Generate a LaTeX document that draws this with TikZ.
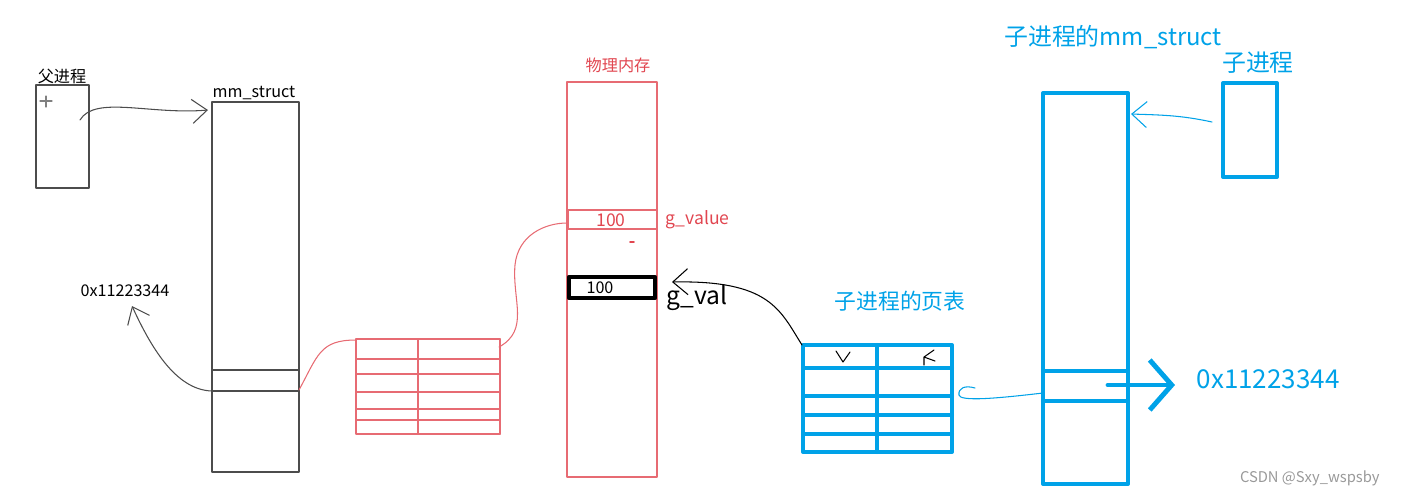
\documentclass[tikz,border=0pt]{standalone}
\usepackage{fontspec}
\setmainfont{Noto Sans CJK SC}
\usetikzlibrary{arrows.meta}
\definecolor{cblue}{RGB}{0,162,232}
\definecolor{cred}{RGB}{225,70,80}
\tikzset{
	gray box/.style={draw=black!70,line width=0.3pt},
	red box/.style={draw=cred!80,line width=0.3pt},
	blue box/.style={draw=cblue,line width=1.15pt},
	hand/.style={line width=0.3pt}
}
\begin{document}
\begin{tikzpicture}[line cap=round,line join=round,x=0.1mm,y=-0.1mm]
	\useasboundingbox (0,0) rectangle (1404,495);
	
	% parent process
	\draw[gray box] (36,85) rectangle (89,188);
	\coordinate (par) at (80,120);
	\draw[black!50,line width=0.3pt] (46,96)--(46,107) (40,101)--(52,101);
	\node (parlbl) at (62,76) {\fontsize{4.6}{5}\selectfont 父进程};
	
	\draw[gray box] (212,102) rectangle (299,472);
	\draw[gray box] (212,370)--(299,370) (212,391)--(299,391);
	\coordinate (mmin) at (208,110);
	\coordinate (mmrow) at (212,391);
	\coordinate (mmrowr) at (299,390);
	\node (mmlbl) at (254,93) {\fontsize{4.6}{5}\selectfont mm\_struct};
	\node (addrl) at (125,291) {\fontsize{4.6}{5}\selectfont 0x11223344};
	
	\draw[hand,black!70,-{Straight Barb[length=1.5mm,width=2.4mm]}] (par) .. controls (95,95) and (150,115) .. (mmin);
	\draw[hand,black!70,-{Straight Barb[length=1.5mm,width=2.4mm]}] (mmrow) .. controls (175,390) and (150,345) .. (132,306);
	
	% parent page table
	\draw[red box] (356,339) rectangle (500,434);
	\draw[red box,line width=0.5pt] (418,339) rectangle (500,434);
	\foreach \y in {359,374,392,409,420}
		\draw[red box] (356,\y)--(500,\y);
	\coordinate (ptl) at (356,340);
	\coordinate (ptr) at (499,347);
	\draw[hand,cred!80] (mmrowr) .. controls (318,355) and (320,340) .. (ptl);
	
	% physical memory
	\draw[red box] (567,82) rectangle (657,477);
	\node[cred] (memlbl) at (618,65) {\fontsize{4.6}{5}\selectfont 物理内存};
	\draw[red box] (568,210) rectangle (657,229);
	\coordinate (gvalue) at (567,223);
	\node[cred] (v1) at (611,220) {\fontsize{5}{6}\selectfont 100};
	\node[cred,anchor=west,inner sep=0pt] (gv1) at (665,220) {\fontsize{5}{6}\selectfont g\_value};
	\draw[cred,line width=0.5pt] (630,242)--(634,242);
	\draw[hand,cred!80] (ptr) .. controls (530,330) and (512,300) .. (515,265) .. controls (518,235) and (545,223) .. (gvalue);
	
	\draw[line width=1.2pt] (569,277) rectangle (655,298);
	\node (v2) at (600,288) {\fontsize{4.6}{5}\selectfont 100};
	\node[anchor=west,inner sep=0pt] (gv2) at (666,298) {\fontsize{7}{8}\selectfont g\_val};
	\coordinate (gvin) at (672,282);
	
	% child page table
	\draw[blue box] (803,345) rectangle (952,452);
	\draw[blue box] (877,345)--(877,452);
	\foreach \y in {368,396,415,434}
		\draw[blue box] (803,\y)--(952,\y);
	\node[cblue] (cptlbl) at (900,301) {\fontsize{6.2}{7}\selectfont 子进程的页表};
	\coordinate (cpt) at (802,345);
	\coordinate (cptr) at (957,393);
	\draw[hand,-{Straight Barb[length=1.5mm,width=2.6mm]}] (cpt) .. controls (780,310) and (770,280) .. (gvin);
	\draw[hand] (836,351)--(843,362)--(850,352) (934,350)--(924,357)--(935,361) (924,357)--(924,365);
	
	% child mm_struct
	\draw[blue box] (1043,93) rectangle (1128,484);
	\draw[blue box] (1043,371)--(1128,371) (1043,401)--(1128,401);
	\node[cblue] (cmmlbl) at (1113,37) {\fontsize{6.8}{8}\selectfont 子进程的mm\_struct};
	\coordinate (cmmin) at (1131,114);
	\coordinate (cmmrow) at (1043,393);
	
	\draw[blue box] (1223,83) rectangle (1277,177);
	\node[cblue] (chlbl) at (1258,63) {\fontsize{6.8}{8}\selectfont 子进程};
	\coordinate (child) at (1212,122);
	\draw[hand,cblue,-{Straight Barb[length=1.5mm,width=2.6mm]}] (child) .. controls (1180,115) and (1160,115) .. (cmmin);
	\draw[hand,cblue] (cmmrow) .. controls (1000,398) and (960,402) .. (959,395) .. controls (958,388) and (965,385) .. (975,388);
	
	\coordinate (crow) at (1108,385);
	\node[cblue,anchor=west,inner sep=0pt] (addrr) at (1196,379) {\fontsize{7.4}{9}\selectfont 0x11223344};
	\draw[cblue,line width=1.4pt,-{Straight Barb[length=2.2mm,width=5mm,line width=1.4pt]}] (crow) -- (1175,385);
	
	\node[black!40,anchor=east] (mark) at (1392,478) {\fontsize{4.2}{5}\selectfont CSDN @Sxy\_wspsby};
\end{tikzpicture}
\end{document}
